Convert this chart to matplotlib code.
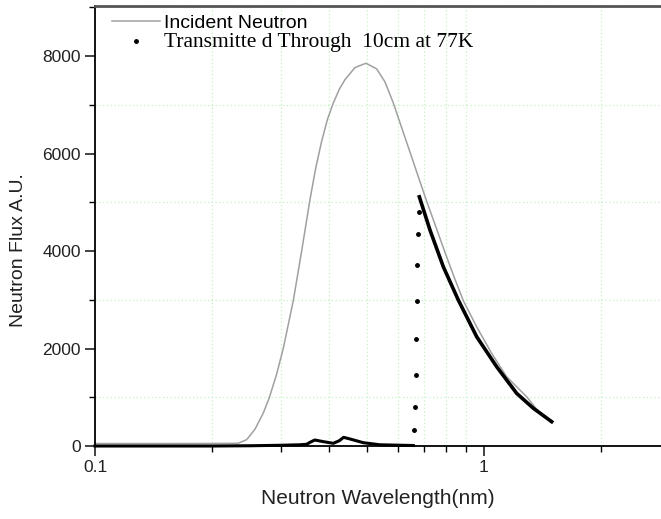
import numpy as np
import matplotlib
matplotlib.use('Agg')
import matplotlib.pyplot as plt
from matplotlib.ticker import MultipleLocator, LogLocator, NullFormatter, FuncFormatter

# incident neutron spectrum (grey line)
inc_x = [0.1, 0.15, 0.2, 0.2331, 0.2454, 0.2577, 0.2708, 0.2806, 0.2931, 0.3049,
         0.3235, 0.3399, 0.3570, 0.3696, 0.3826, 0.3960, 0.4100, 0.4243, 0.4392,
         0.4660, 0.4972, 0.5299, 0.5565, 0.5845, 0.6141, 0.6454, 0.6780, 0.7121,
         0.7525, 0.7940, 0.8373, 0.8849, 0.9575, 1.0464, 1.1436, 1.2917, 1.3664,
         1.4929]
inc_y = [50, 50, 52, 55, 130, 342, 677, 991, 1477, 2010,
         2988, 4006, 5059, 5716, 6256, 6707, 7042, 7315, 7520,
         7767, 7855, 7739, 7472, 7042, 6536, 6030, 5524, 5025,
         4492, 3972, 3473, 2981, 2447, 1901, 1422, 998, 752,
         499]

# transmitted through 10cm at 77K: below the Bragg cutoff
low_x = [0.1, 0.15, 0.2, 0.25, 0.3, 0.3365, 0.3499, 0.3580, 0.3672, 0.3864,
         0.4100, 0.4250, 0.4355, 0.4524, 0.4893, 0.5401, 0.6582]
low_y = [0, 0, 0, 5, 15, 25, 35, 80, 123, 89,
         55, 110, 178, 144, 68, 25, 10]

# points along the cutoff edge
edge_x = [0.6806, 0.6780, 0.6740, 0.6727, 0.6700, 0.6674, 0.6648, 0.6622]
edge_y = [4806, 4348, 3712, 2967, 2188, 1456, 807, 328]

# above the cutoff
high_x = [0.6820, 0.7265, 0.7860, 0.8590, 0.9577, 1.0779, 1.2134, 1.3397, 1.4928]
high_y = [5114, 4430, 3678, 2995, 2242, 1627, 1080, 773, 499]

fig = plt.figure(figsize=(6.61, 5.19), dpi=100)
ax = fig.add_axes([95 / 661, 1 - 446 / 519, 1 - 95 / 661, 440 / 519])

ax.plot(inc_x, inc_y, color='#a0a0a0', lw=1.1, label='Incident Neutron')
ax.plot(low_x, low_y, color='black', lw=2.2, clip_on=False)
ax.plot(high_x, high_y, color='black', lw=2.6)
ax.plot(edge_x, edge_y, 'o', color='black', ms=2.5, ls='none',
        label='Transmitte d Through  10cm at 77K')

ax.set_xscale('log')
ax.set_xlim(0.1, 10 ** ((661 - 95) / 389 - 1))
ax.set_ylim(0, 9030)

ax.xaxis.set_major_locator(LogLocator(base=10))
ax.xaxis.set_minor_locator(LogLocator(base=10, subs=np.arange(2, 10)))
ax.xaxis.set_major_formatter(FuncFormatter(lambda v, p: f'{v:g}'))
ax.xaxis.set_minor_formatter(NullFormatter())
ax.yaxis.set_major_locator(MultipleLocator(2000))
ax.yaxis.set_minor_locator(MultipleLocator(1000))

ax.grid(which='minor', color='#c4f2c4', lw=0.9, ls=(0, (1, 2)))
ax.grid(which='major', visible=False)

ax.tick_params(which='major', direction='out', length=7, width=1.2,
               labelsize=12.5, colors='#222222', pad=3)
ax.tick_params(which='minor', direction='out', length=4, width=1.0)

ax.spines['right'].set_visible(False)
ax.spines['top'].set_color('#555555')
ax.spines['top'].set_linewidth(2.0)
ax.spines['left'].set_linewidth(1.3)
ax.spines['bottom'].set_linewidth(1.3)

for lab in ax.get_xticklabels() + ax.get_yticklabels():
    lab.set_family(['Liberation Sans', 'DejaVu Sans'])

ax.set_xlabel('Neutron Wavelength(nm)', fontsize=15, family='Liberation Sans',
              color='#222222')
ax.xaxis.set_label_coords(0.5, -(498 - 446) / 440, transform=ax.transAxes)
ax.xaxis.label.set_va('center')
ax.set_ylabel('Neutron Flux A.U.', fontsize=14, family='Liberation Sans',
              color='#222222')
ax.yaxis.set_label_coords(-(95 - 19) / 566, (446 - 250) / 440)
ax.yaxis.label.set_va('center')

leg = ax.legend(loc='upper left', bbox_to_anchor=(5 / 566, 1.008), frameon=False,
                handlelength=2.47, handletextpad=0.2, labelspacing=0.08,
                borderaxespad=0.2, fontsize=14)
texts = leg.get_texts()
texts[0].set_family('Liberation Sans')
texts[1].set_family('Liberation Serif')
texts[1].set_fontsize(15.5)

fig.savefig('out.png', dpi=100)
